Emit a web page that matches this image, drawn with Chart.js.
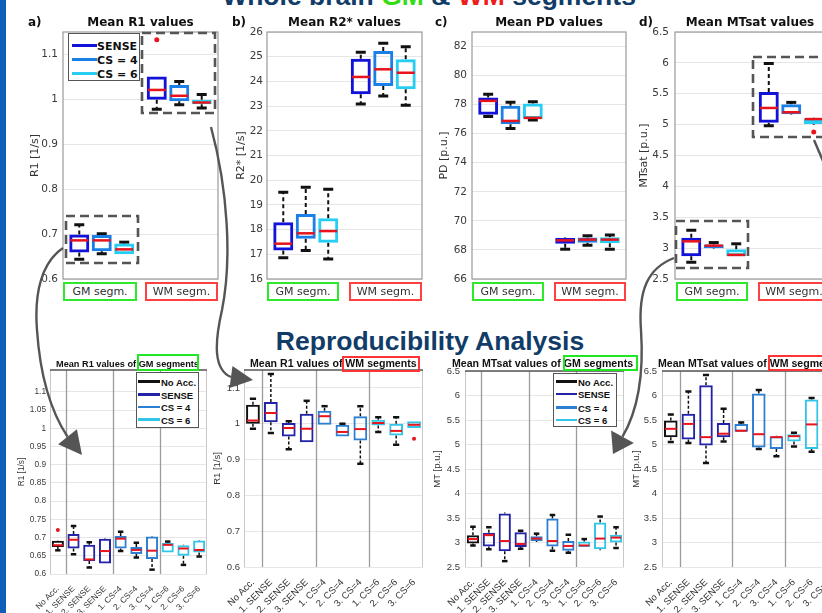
<!DOCTYPE html>
<html><head><meta charset="utf-8">
<script src="https://cdn.jsdelivr.net/npm/chart.js@4.4.1/dist/chart.umd.min.js"></script>
<style>
html,body{margin:0;padding:0;background:#fff;}
#page{position:relative;width:822px;height:613px;overflow:hidden;background:#fff;}
#page canvas{position:absolute;z-index:1;}
.t{position:absolute;white-space:nowrap;line-height:1;z-index:2;}
.dv{font-family:"DejaVu Sans",sans-serif;}
.ls{font-family:"Liberation Sans",Arial,sans-serif;}
.seg{position:absolute;box-sizing:border-box;top:282px;height:19px;border:2px solid;font:11px "DejaVu Sans",sans-serif;color:#333;text-align:center;line-height:15px;background:#fff;z-index:3;}
.lg{position:absolute;background:#fff;border:1px solid #555;box-sizing:border-box;z-index:3;}
.lg div{position:absolute;white-space:nowrap;line-height:1;}
.hl{position:absolute;border:2px solid;box-sizing:border-box;z-index:3;}
#ov{position:absolute;left:0;top:0;z-index:5;pointer-events:none;}
</style></head>
<body><div id="page">
<div style="position:absolute;left:0;top:0;width:6px;height:613px;background:#0f5fb8;z-index:6"></div>
<div class="t ls" style="left:429px;top:-17px;transform:translateX(-50%);font-size:26.5px;font-weight:bold;color:#113c68">Whole brain <span style="color:#33dd11">GM</span> &amp; <span style="color:#ee1c1c">WM</span> segments</div>
<div class="t ls" style="left:430px;top:328px;transform:translateX(-50%);font-size:26.5px;font-weight:bold;color:#113c68">Reproducibility Analysis</div>
</div>
<script>
// ================= DATA =================
// Top row (whole brain): groups and series
const topGroups = ['GM segm.', 'WM segm.'];
const topSeries = ['SENSE', 'CS = 4', 'CS = 6'];
// five-number summaries [min, q1, median, q3, max] for [GM, WM]
const r1_SENSE = [[0.644, 0.659, 0.686, 0.699, 0.721], [0.978, 0.999, 1.021, 1.051, 1.051]];
const r1_CS4   = [[0.656, 0.662, 0.686, 0.698, 0.701], [0.988, 0.996, 1.008, 1.032, 1.040]];
const r1_CS6   = [[0.655, 0.655, 0.666, 0.679, 0.682], [0.981, 0.989, 0.993, 0.999, 1.011]];
const r1_outliers = [[[], [1.133]], [[], []], [[], []]];
const r2_SENSE = [[16.86, 17.15, 17.43, 18.30, 19.51], [23.09, 23.48, 24.18, 24.92, 25.18]];
const r2_CS4   = [[17.15, 17.63, 17.85, 18.63, 19.71], [23.41, 23.81, 24.49, 25.23, 25.54]];
const r2_CS6   = [[16.81, 17.47, 17.94, 18.46, 19.63], [23.03, 23.68, 24.35, 24.90, 25.40]];
const pd_SENSE = [[77.18, 77.30, 78.26, 78.49, 78.72], [68.05, 68.43, 68.66, 68.82, 68.85]];
const pd_CS4   = [[76.35, 76.65, 76.88, 77.92, 78.17], [68.32, 68.50, 68.71, 68.85, 68.98]];
const pd_CS6   = [[76.95, 77.02, 77.09, 78.08, 78.20], [68.05, 68.46, 68.71, 68.87, 69.03]];
const mt_SENSE = [[2.77, 2.87, 3.11, 3.17, 3.29], [4.98, 5.03, 5.27, 5.53, 5.99]];
const mt_CS4   = [[2.99, 3.00, 3.04, 3.06, 3.09], [5.16, 5.17, 5.20, 5.33, 5.36]];
const mt_CS6   = [[2.87, 2.87, 2.89, 2.98, 3.07], [5.00, 5.01, 5.09, 5.10, 5.11]];
const mt_outliers = [[[], []], [[], []], [[], [4.88]]];
// tick labels
const r1Ticks = ['0.6', '0.7', '0.8', '0.9', '1', '1.1'];
const r2Ticks = ['16', '17', '18', '19', '20', '21', '22', '23', '24', '25', '26'];
const pdTicks = ['66', '68', '70', '72', '74', '76', '78', '80', '82'];
const mtTicks = ['2.5', '3', '3.5', '4', '4.5', '5', '5.5', '6', '6.5'];

// Bottom row (reproducibility)
const repLabels = ['No Acc.', '1. SENSE', '2. SENSE', '3. SENSE', '1. CS=4', '2. CS=4', '3. CS=4', '1. CS=6', '2. CS=6', '3. CS=6'];
const repSeries = ['No Acc.', 'SENSE', 'CS = 4', 'CS = 6'];
const repR1GM = [
  [0.665, 0.674, 0.679, 0.691, 0.692], [0.654, 0.670, 0.694, 0.710, 0.732], [0.618, 0.636, 0.640, 0.680, 0.687],
  [0.629, 0.629, 0.663, 0.697, 0.698], [0.663, 0.670, 0.697, 0.704, 0.716], [0.645, 0.655, 0.666, 0.674, 0.686],
  [0.612, 0.641, 0.664, 0.703, 0.704], [0.659, 0.659, 0.680, 0.686, 0.689], [0.625, 0.650, 0.670, 0.679, 0.680],
  [0.648, 0.659, 0.666, 0.692, 0.693]];
const repR1GMOut = [[0.721], [], [], [], [], [], [], [], [], []];
const repR1WM = [
  [0.986, 1.000, 1.009, 1.053, 1.070], [0.974, 1.004, 1.030, 1.061, 1.139], [0.929, 0.964, 0.988, 1.002, 1.007],
  [0.948, 0.948, 0.986, 1.028, 1.064], [0.997, 0.997, 1.021, 1.036, 1.049], [0.964, 0.964, 0.977, 0.997, 1.000],
  [0.888, 0.953, 0.985, 1.021, 1.049], [0.977, 0.995, 1.002, 1.011, 1.018], [0.941, 0.967, 0.980, 1.000, 1.018],
  [0.988, 0.988, 0.997, 1.007, 1.007]];
const repR1WMOut = [[], [], [], [], [], [], [], [], [], [0.958]];
const repMTGM = [
  [2.94, 2.98, 3.07, 3.15, 3.32], [2.86, 2.92, 3.15, 3.20, 3.31], [2.62, 2.82, 3.03, 3.59, 3.61],
  [2.87, 2.91, 2.97, 3.21, 3.24], [3.01, 3.03, 3.08, 3.13, 3.18], [2.83, 2.92, 3.03, 3.49, 3.56],
  [2.79, 2.83, 2.93, 3.03, 3.16], [2.91, 2.91, 2.94, 3.02, 3.07], [2.84, 2.86, 3.08, 3.41, 3.53],
  [2.89, 3.00, 3.10, 3.16, 3.31]];
const repMTWM = [
  [5.05, 5.15, 5.32, 5.49, 5.61], [5.03, 5.10, 5.42, 5.63, 6.08], [4.62, 4.98, 5.15, 6.21, 6.42],
  [5.06, 5.15, 5.22, 5.44, 5.73], [5.26, 5.26, 5.28, 5.42, 5.45], [4.91, 4.94, 5.21, 6.04, 6.11],
  [4.76, 4.91, 5.15, 5.17, 5.18], [4.96, 5.06, 5.17, 5.21, 5.24], [4.85, 4.91, 5.41, 5.92, 5.95],
  null];
const repNoOut = [[], [], [], [], [], [], [], [], [], []];
const repR1GMTicks = ['0.6', '0.65', '0.7', '0.75', '0.8', '0.85', '0.9', '0.95', '1', '1.05', '1.1'];
const repR1WMTicks = ['0.6', '0.7', '0.8', '0.9', '1', '1.1'];
const repMTTicks = ['2.5', '3', '3.5', '4', '4.5', '5', '5.5', '6', '6.5'];

// ================= STYLE =================
const topColors = ['#1212d8', '#1a7fe6', '#27cdf2'];
const repColors = ['#111111', '#2323a8', '#2d7fd2', '#33c5e8'];
const repColorIdx = [0, 1, 1, 1, 2, 2, 2, 3, 3, 3];
const MED = '#e8141c';
const page = document.getElementById('page');

const boxPlugin = {
  id: 'boxes',
  beforeDatasetsDraw(chart, args, o) {
    const ctx = chart.ctx, ca = chart.chartArea, ys = chart.scales.y, xs = chart.scales.x;
    ctx.save();
    (o.separators || []).forEach(i => {
      const x = Math.round((xs.getPixelForValue(i - 1) + xs.getPixelForValue(i)) / 2) + 0.5;
      ctx.strokeStyle = '#9c9c9c'; ctx.lineWidth = 1.3;
      ctx.beginPath(); ctx.moveTo(x, ca.top); ctx.lineTo(x, ca.bottom + (o.sepExt || 0)); ctx.stroke();
    });
    chart.data.datasets.forEach((ds, di) => {
      const meta = chart.getDatasetMeta(di);
      ds.stats.forEach((s, j) => {
        if (!s) return;
        const el = meta.data[j];
        const x = el.x, w = el.width;
        const p = v => ys.getPixelForValue(v);
        ctx.strokeStyle = '#111'; ctx.lineWidth = o.whiskerWidth; ctx.setLineDash(o.dash);
        ctx.beginPath();
        ctx.moveTo(x, p(s[3])); ctx.lineTo(x, p(s[4]));
        ctx.moveTo(x, p(s[1])); ctx.lineTo(x, p(s[0]));
        ctx.stroke();
        ctx.setLineDash([]); ctx.lineWidth = o.capWidth;
        const hw = w * o.capFrac / 2;
        ctx.beginPath();
        if (p(s[4]) < p(s[3]) - 1) { ctx.moveTo(x - hw, p(s[4])); ctx.lineTo(x + hw, p(s[4])); }
        if (p(s[0]) > p(s[1]) + 1) { ctx.moveTo(x - hw, p(s[0])); ctx.lineTo(x + hw, p(s[0])); }
        ctx.stroke();
      });
    });
    ctx.restore();
  },
  afterDatasetsDraw(chart, args, o) {
    const ctx = chart.ctx, ca = chart.chartArea, ys = chart.scales.y;
    ctx.save();
    chart.data.datasets.forEach((ds, di) => {
      const meta = chart.getDatasetMeta(di);
      ds.stats.forEach((s, j) => {
        if (!s) return;
        const el = meta.data[j];
        const x = el.x, w = el.width;
        const ym = ys.getPixelForValue(s[2]);
        ctx.strokeStyle = MED; ctx.lineWidth = o.medWidth;
        ctx.beginPath(); ctx.moveTo(x - w / 2 + 1, ym); ctx.lineTo(x + w / 2 - 1, ym); ctx.stroke();
        (ds.outliers[j] || []).forEach(v => {
          ctx.fillStyle = MED;
          ctx.beginPath(); ctx.arc(x, ys.getPixelForValue(v), o.outR, 0, Math.PI * 2); ctx.fill();
        });
      });
    });
    if (o.frame === 'top') {
      ctx.strokeStyle = '#9a9a9a'; ctx.lineWidth = 1.2;
      ctx.strokeRect(ca.left, ca.top, ca.width, ca.height);
    } else {
      ctx.strokeStyle = '#c8c8c8'; ctx.lineWidth = 1;
      ctx.beginPath();
      ctx.moveTo(ca.left + 0.5, ca.top); ctx.lineTo(ca.left + 0.5, ca.bottom);
      ctx.moveTo(ca.right - 0.5, ca.top); ctx.lineTo(ca.right - 0.5, ca.bottom);
      ctx.stroke();
      ctx.strokeStyle = '#555'; ctx.lineWidth = 1.5;
      ctx.beginPath(); ctx.moveTo(ca.left, ca.top); ctx.lineTo(ca.right, ca.top); ctx.stroke();
    }
    ctx.restore();
  }
};

function mkCanvas(r) {
  const c = document.createElement('canvas');
  c.width = r.cr - r.cl; c.height = r.cb - r.ct;
  c.style.left = r.cl + 'px'; c.style.top = r.ct + 'px';
  c.style.width = c.width + 'px'; c.style.height = c.height + 'px';
  page.appendChild(c);
  return c;
}

function yScale(r, min, max, ticks, title, fam, tsz, titleSz) {
  const vals = ticks.map(parseFloat);
  return {
    type: 'linear', min: min, max: max, beginAtZero: false,
    afterBuildTicks: s => { s.ticks = vals.map(v => ({ value: v })); },
    ticks: { callback: (v, i) => ticks[i], font: { family: fam, size: tsz }, color: '#3a3a3a', padding: r.tp },
    grid: { color: '#e6e6e6', drawTicks: false, lineWidth: 1 },
    border: { display: false },
    title: { display: true, text: title, font: { family: fam, size: titleSz }, color: '#333', padding: 0 },
    afterFit: s => { s.width = r.l - r.cl; s.paddingTop = 0; s.paddingBottom = 0; }
  };
}

function topChart(r, min, max, ticks, title, stats, outs) {
  const c = mkCanvas(r);
  new Chart(c, {
    type: 'bar',
    data: {
      labels: topGroups,
      datasets: topSeries.map((name, k) => ({
        label: name, stats: stats[k], outliers: outs ? outs[k] : [[], []],
        data: stats[k].map(s => [s[1], s[3]]),
        borderColor: topColors[k], backgroundColor: 'rgba(0,0,0,0)', borderWidth: 3, borderSkipped: false,
        categoryPercentage: 0.87, barPercentage: 0.89
      }))
    },
    options: {
      responsive: false, animation: false, devicePixelRatio: 1,
      layout: { padding: { top: r.t - r.ct, right: r.cr - r.r, left: 0, bottom: 0 } },
      plugins: { legend: { display: false }, tooltip: { enabled: false },
        boxes: { frame: 'top', whiskerWidth: 2, capWidth: 3, capFrac: 0.5, dash: [4, 3], medWidth: 2.5, outR: 2.5 } },
      scales: {
        x: { type: 'category', grid: { display: false }, border: { display: false }, ticks: { display: false },
             afterFit: s => { s.height = r.cb - r.b; s.paddingLeft = 0; s.paddingRight = 0; } },
        y: yScale(r, min, max, ticks, title, '"DejaVu Sans"', 10.5, 11)
      }
    },
    plugins: [boxPlugin]
  });
}

function repChart(r, min, max, ticks, title, stats, outs, fsz) {
  const c = mkCanvas(r);
  new Chart(c, {
    type: 'bar',
    data: {
      labels: repLabels,
      datasets: [{
        label: 'rep', stats: stats, outliers: outs,
        data: stats.map(s => s ? [s[1], s[3]] : null),
        borderColor: repColorIdx.map(i => repColors[i]), backgroundColor: 'rgba(0,0,0,0)',
        borderWidth: 2, borderSkipped: false, categoryPercentage: 1, barPercentage: 0.77
      }]
    },
    options: {
      responsive: false, animation: false, devicePixelRatio: 1,
      layout: { padding: { top: r.t - r.ct, right: r.cr - r.r, left: 0, bottom: 0 } },
      plugins: { legend: { display: false }, tooltip: { enabled: false },
        boxes: { frame: 'bottom', separators: [1, 4, 7], whiskerWidth: 1.5, capWidth: 2.5, capFrac: 0.45, dash: [3, 2], medWidth: 2, outR: 2 } },
      scales: {
        x: { type: 'category', grid: { display: false }, border: { display: false },
             ticks: { autoSkip: false, minRotation: 45, maxRotation: 45, padding: 2, font: { family: '"Liberation Sans"', size: fsz }, color: '#333' },
             afterFit: s => { s.height = r.cb - r.b; s.paddingLeft = 0; s.paddingRight = 0; } },
        y: yScale(r, min, max, ticks, title, '"Liberation Sans"', fsz, fsz)
      }
    },
    plugins: [boxPlugin]
  });
}

// ---- top row charts
topChart({ cl: 29, ct: 22, cr: 222, cb: 292, l: 63, t: 32, r: 218, b: 279, tp: 5 }, 0.6, 1.15, r1Ticks, 'R1 [1/s]', [r1_SENSE, r1_CS4, r1_CS6], r1_outliers);
topChart({ cl: 235, ct: 22, cr: 426, cb: 292, l: 267, t: 32, r: 422, b: 279, tp: 4 }, 16, 26, r2Ticks, 'R2* [1/s]', [r2_SENSE, r2_CS4, r2_CS6], null);
topChart({ cl: 438, ct: 22, cr: 630, cb: 292, l: 472, t: 32, r: 626, b: 279, tp: 5 }, 66, 83, pdTicks, 'PD [p.u.]', [pd_SENSE, pd_CS4, pd_CS6], null);
topChart({ cl: 638, ct: 22, cr: 834, cb: 292, l: 675, t: 32, r: 830, b: 279, tp: 6 }, 2.5, 6.5, mtTicks, 'MTsat [p.u.]', [mt_SENSE, mt_CS4, mt_CS6], mt_outliers);

// ---- bottom row charts
repChart({ cl: 17, ct: 362, cr: 210, cb: 613, l: 50, t: 370, r: 207, b: 574, tp: 4 }, 0.6, 1.16, repR1GMTicks, 'R1 [1/s]', repR1GM, repR1GMOut, 8.3);
repChart({ cl: 212, ct: 362, cr: 427, cb: 613, l: 244, t: 370, r: 423, b: 567, tp: 4 }, 0.6, 1.15, repR1WMTicks, 'R1 [1/s]', repR1WM, repR1WMOut, 9.5);
repChart({ cl: 432, ct: 362, cr: 628, cb: 613, l: 465, t: 371, r: 624, b: 567, tp: 5 }, 2.5, 6.5, repMTTicks, 'MT [p.u.]', repMTGM, repNoOut, 9.5);
repChart({ cl: 631, ct: 362, cr: 842, cb: 613, l: 662, t: 371, r: 838, b: 567, tp: 5 }, 2.5, 6.5, repMTTicks, 'MT [p.u.]', repMTWM, repNoOut, 9.5);

// ================= TEXT / ANNOTATIONS =================
function txt(html, cls, style) {
  const d = document.createElement('div');
  d.className = 't ' + cls; d.setAttribute('style', style); d.innerHTML = html;
  page.appendChild(d); return d;
}
// top titles and letters
[['a)', 28], ['b)', 232], ['c)', 435], ['d)', 639]].forEach(([s, x]) =>
  txt(s, 'dv', `left:${x}px;top:16px;font-size:12px;font-weight:bold;color:#111`));
[['Mean R1 values', 140.5], ['Mean R2* values', 344.5], ['Mean PD values', 549], ['Mean MTsat values', 750]].forEach(([s, x]) =>
  txt(s, 'dv', `left:${x}px;top:16px;transform:translateX(-50%);font-size:12px;font-weight:bold;color:#111`));
// segment boxes
[[63, 74, 145, 73], [267, 72, 349, 73], [472, 72, 554, 72], [676, 72, 758, 72]].forEach(([g, gw, w, ww]) => {
  const a = document.createElement('div'); a.className = 'seg'; a.style.left = g + 'px'; a.style.width = gw + 'px';
  a.style.borderColor = '#2ee82e'; a.textContent = topGroups[0]; page.appendChild(a);
  const b = document.createElement('div'); b.className = 'seg'; b.style.left = w + 'px'; b.style.width = ww + 'px';
  b.style.borderColor = '#ff4040'; b.textContent = topGroups[1]; page.appendChild(b);
});
// bottom titles
function hl(x, y, w, h, col) {
  const d = document.createElement('div'); d.className = 'hl';
  d.setAttribute('style', `left:${x}px;top:${y}px;width:${w}px;height:${h}px;border-color:${col}`);
  page.appendChild(d);
}
txt('Mean R1 values of GM segments', 'ls', 'left:56px;top:360.2px;font-size:9.2px;font-weight:bold;color:#111');
hl(137, 354, 62, 17, '#22e622');
txt('Mean R1 values of WM segments', 'ls', 'left:250px;top:358px;font-size:10.6px;font-weight:bold;color:#111');
hl(342, 356, 78, 16, '#ff3535');
txt('Mean MTsat values of GM segments', 'ls', 'left:452px;top:358px;font-size:10.6px;font-weight:bold;color:#111');
hl(563, 355, 75, 16, '#22e622');
txt('Mean MTsat values of WM segments', 'ls', 'left:658px;top:358px;font-size:10.6px;font-weight:bold;color:#111');
hl(768, 355, 80, 16, '#ff3535');

// legends
function legend(x, y, w, h, names, cols, rows, lx0, lx1, tx, fs, fam, lw) {
  const d = document.createElement('div'); d.className = 'lg';
  d.setAttribute('style', `left:${x}px;top:${y}px;width:${w}px;height:${h}px`);
  names.forEach((n, i) => {
    const ln = document.createElement('div');
    ln.setAttribute('style', `left:${lx0}px;top:${rows[i] - lw / 2}px;width:${lx1 - lx0}px;height:${lw}px;background:${cols[i]}`);
    d.appendChild(ln);
    const t = document.createElement('div');
    t.setAttribute('style', `left:${tx}px;top:${rows[i] - 0.49 * fs}px;font:bold ${fs}px ${fam};color:#111`);
    t.textContent = n; d.appendChild(t);
  });
  page.appendChild(d);
}
legend(68, 33, 72, 48, topSeries, topColors, [11, 25, 39], 3, 28, 28, 11, '"DejaVu Sans"', 3);
legend(136, 372, 63, 56, repSeries, repColors, [8.7, 21.3, 34, 46.7], 1, 23, 24, 9.5, '"Liberation Sans"', 2.5);
legend(553, 373, 64, 54, repSeries, repColors, [7.7, 20, 33.3, 46], 2, 23, 24, 9.5, '"Liberation Sans"', 2.5);

// overlay: dashed boxes and curved arrows
const NS = 'http://www.w3.org/2000/svg';
const svg = document.createElementNS(NS, 'svg');
svg.setAttribute('id', 'ov'); svg.setAttribute('width', 822); svg.setAttribute('height', 613);
page.appendChild(svg);
function sv(tag, attrs) { const e = document.createElementNS(NS, tag); for (const k in attrs) e.setAttribute(k, attrs[k]); svg.appendChild(e); return e; }
[[66, 216, 72, 47], [142, 33, 73, 80], [676, 221, 72, 47], [753, 57, 80, 80]].forEach(([x, y, w, h]) =>
  sv('rect', { x, y, width: w, height: h, fill: 'none', stroke: '#555', 'stroke-width': 2.6, 'stroke-dasharray': '9 5' }));
function arrow(d, tip, base, hw) {
  sv('path', { d, fill: 'none', stroke: '#555', 'stroke-width': 2.4 });
  const dx = tip[0] - base[0], dy = tip[1] - base[1], L = Math.hypot(dx, dy);
  const nx = -dy / L * hw, ny = dx / L * hw;
  sv('polygon', { points: `${tip[0]},${tip[1]} ${base[0] + nx},${base[1] + ny} ${base[0] - nx},${base[1] - ny}`, fill: '#555' });
}
arrow('M 63 248 C 42 262, 34 292, 37 330 C 40 375, 50 410, 67.5 436.7', [82, 455], [67.5, 436.7], 12);
arrow('M 211 127 C 228 190, 232 260, 222 310 C 214 345, 214 370, 231 377', [253, 380], [231, 377], 11);
arrow('M 674 258 C 648 268, 638 290, 641 330 C 644 375, 637 412, 622.5 436.7', [613, 454], [622.5, 436.7], 13);
sv('path', { d: 'M 814 140 L 826 168', fill: 'none', stroke: '#555', 'stroke-width': 2.4 });
</script>
</body></html>
